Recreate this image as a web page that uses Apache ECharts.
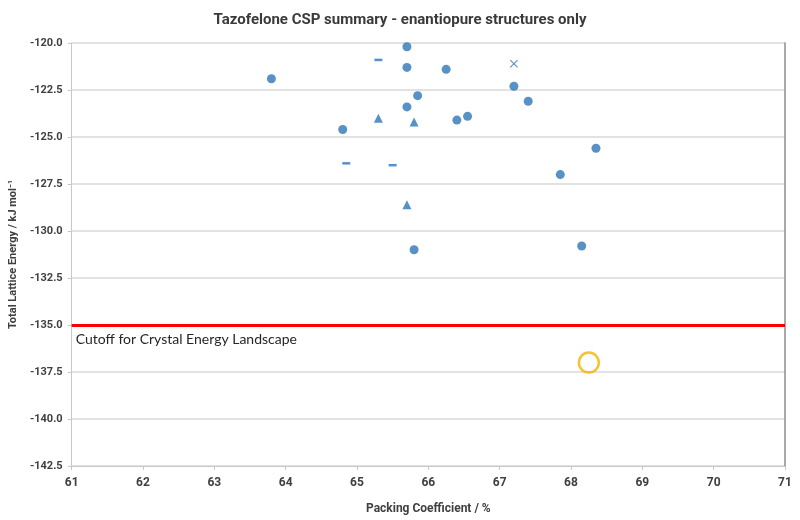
<!DOCTYPE html>
<html><head><meta charset="utf-8">
<script src="https://cdn.jsdelivr.net/npm/echarts@6/dist/echarts.min.js"></script>
<style>html,body{margin:0;padding:0;background:#fff}#c{width:800px;height:520px}</style>
</head><body><div id="c"></div>
<script>
// Packing coefficient (%) and total lattice energy (kJ/mol) by marker group
const circleX = [63.8, 65.7, 65.7, 66.25, 67.2, 65.85, 65.7, 67.4, 64.8, 66.4, 66.55, 68.35, 67.85, 65.8, 68.15];
const circleY = [-121.9, -120.2, -121.3, -121.4, -122.3, -122.8, -123.4, -123.1, -124.6, -124.1, -123.9, -125.6, -127.0, -131.0, -130.8];
const triX = [65.3, 65.8, 65.7];
const triY = [-124.0, -124.2, -128.6];
const dashX = [65.3, 64.85, 65.5];
const dashY = [-120.9, -126.4, -126.5];
const crossX = [67.2];
const crossY = [-121.1];
const expX = [68.25];
const expY = [-137.0];
const cutoff = [-135.0];
const xTicks = [61, 62, 63, 64, 65, 66, 67, 68, 69, 70, 71];
const yTicks = [-120, -122.5, -125, -127.5, -130, -132.5, -135, -137.5, -140, -142.5];

const pair = (xs, ys) => xs.map((x, i) => [x, ys[i]]);
const blue = '#2E75B6';
const boldFont = 'Roboto, "Open Sans", sans-serif';
const textFont = 'Lato, "Open Sans", sans-serif';

const chart = echarts.init(document.getElementById('c'), null, {renderer: 'canvas'});
chart.setOption({
  animation: false,
  backgroundColor: '#fff',
  title: {
    text: 'Tazofelone CSP summary - enantiopure structures only',
    left: 'center', top: 8,
    textStyle: {fontFamily: boldFont, fontSize: 15, fontWeight: 'bold', color: '#3a3a3a'}
  },
  grid: {left: 68, right: 15, top: 43, bottom: 52},
  xAxis: {
    type: 'value', min: xTicks[0], max: xTicks[xTicks.length - 1], interval: 1,
    name: 'Packing Coefficient / %', nameLocation: 'middle', nameGap: 37,
    nameTextStyle: {fontFamily: boldFont, fontSize: 12, fontWeight: 'bold', color: '#404040'},
    axisLine: {lineStyle: {color: '#c8c8c8'}},
    axisTick: {show: true, length: 4, lineStyle: {color: '#c8c8c8'}},
    axisLabel: {fontFamily: boldFont, fontSize: 12, fontWeight: 'bold', color: '#404040', margin: 11},
    splitLine: {show: false}
  },
  yAxis: [{
    type: 'value', min: yTicks[yTicks.length - 1], max: yTicks[0], interval: 2.5,
    name: 'Total Lattice Energy / kJ mol\u207B\u00B9', nameLocation: 'middle', nameGap: 52, nameRotate: 90,
    nameTextStyle: {fontFamily: boldFont, fontSize: 11, fontWeight: 'bold', color: '#404040'},
    axisLine: {show: true, lineStyle: {color: '#c8c8c8'}},
    axisTick: {show: true, length: 4, lineStyle: {color: '#c8c8c8'}},
    axisLabel: {fontFamily: boldFont, fontSize: 11, fontWeight: 'bold', color: '#404040', margin: 9,
      formatter: v => v.toFixed(1)},
    splitLine: {show: true, lineStyle: {color: '#d9d9d9', width: 1.5}}
  }, {
    type: 'value', position: 'right', min: yTicks[yTicks.length - 1], max: yTicks[0], interval: 2.5,
    axisLine: {show: true, lineStyle: {color: '#8c8c8c', width: 1.5}},
    axisTick: {show: false}, axisLabel: {show: false}, splitLine: {show: false}
  }],
  series: [
    {type: 'scatter', name: 'circle', data: pair(circleX, circleY), symbol: 'circle', symbolSize: 9,
      itemStyle: {color: blue}},
    {type: 'scatter', name: 'triangle', data: pair(triX, triY), symbol: 'triangle', symbolSize: 9,
      itemStyle: {color: blue}},
    {type: 'scatter', name: 'dash', data: pair(dashX, dashY), symbol: 'rect', symbolSize: [8, 2.5],
      itemStyle: {color: blue}},
    {type: 'scatter', name: 'cross', data: pair(crossX, crossY),
      symbol: 'path://M0,1 L1,0 L5,4 L9,0 L10,1 L6,5 L10,9 L9,10 L5,6 L1,10 L0,9 L4,5 Z', symbolSize: 8,
      itemStyle: {color: blue}},
    {type: 'scatter', name: 'experimental', data: pair(expX, expY), symbol: 'circle', symbolSize: 20,
      itemStyle: {color: 'rgba(255,255,255,0)', borderColor: '#F5B300', borderWidth: 2.5}},
    {type: 'line', name: 'cutoff', data: [],
      markLine: {
        silent: true, symbol: ['none', 'none'],
        lineStyle: {color: '#FF0000', width: 3, type: 'solid'},
        label: {show: true, position: 'insideStartBottom', formatter: 'Cutoff for Crystal Energy Landscape',
          fontFamily: textFont, fontSize: 14, color: '#262626', distance: [4, 7]},
        data: cutoff.map(v => ({yAxis: v}))
      }}
  ]
});
</script></body></html>
